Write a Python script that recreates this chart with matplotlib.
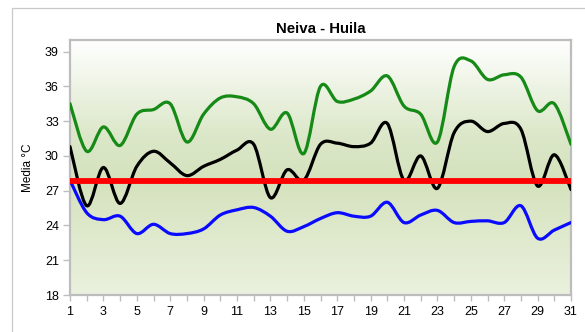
import numpy as np
import matplotlib
matplotlib.use("Agg")
import matplotlib.pyplot as plt
from matplotlib.path import Path
from matplotlib.patches import PathPatch, Rectangle
from matplotlib.colors import LinearSegmentedColormap

plt.rcParams['font.family'] = ['Liberation Sans', 'DejaVu Sans']

# daily temperatures, Neiva - Huila
dias = list(range(1, 32))
maxima = [34.5, 30.4, 32.5, 30.9, 33.6, 34.0, 34.5, 31.2, 33.6, 35.0, 35.1,
          34.5, 32.3, 33.7, 30.2, 36.0, 34.7, 34.9, 35.6, 36.9, 34.3, 33.6,
          31.2, 37.7, 38.2, 36.6, 37.0, 36.8, 33.9, 34.5, 31.0]
media = [30.8, 25.7, 29.0, 25.9, 29.1, 30.4, 29.4, 28.3, 29.1, 29.7, 30.5,
         31.0, 26.4, 28.8, 27.9, 31.0, 31.1, 30.8, 31.1, 32.8, 27.9, 30.0,
         27.2, 32.0, 33.0, 32.1, 32.8, 32.3, 27.4, 30.1, 27.1]
minima = [27.9, 25.1, 24.5, 24.8, 23.3, 24.1, 23.3, 23.3, 23.7, 24.9, 25.35,
          25.55, 24.8, 23.5, 23.9, 24.6, 25.1, 24.8, 24.8, 26.0, 24.25, 24.9,
          25.3, 24.25, 24.35, 24.4, 24.25, 25.7, 22.9, 23.6, 24.25]
promedio = 27.8

yticks = [18, 21, 24, 27, 30, 33, 36, 39]
xlabels = [1, 3, 5, 7, 9, 11, 13, 15, 17, 19, 21, 23, 25, 27, 29, 31]


def smooth_path(x, y):
    # Catmull-Rom curve through every point, written as cubic Bezier segments
    p = np.column_stack([x, y]).astype(float)
    ext = np.vstack([p[0], p, p[-1]])
    verts = [p[0]]
    codes = [Path.MOVETO]
    for i in range(len(p) - 1):
        p0, p1, p2, p3 = ext[i], ext[i + 1], ext[i + 2], ext[i + 3]
        verts += [p1 + (p2 - p0) / 6, p2 - (p3 - p1) / 6, p2]
        codes += [Path.CURVE4] * 3
    return Path(verts, codes)


fig = plt.figure(figsize=(5.85, 3.32), dpi=100)
fig.patch.set_facecolor('white')

# outer chart border
fig.add_artist(Rectangle((12 / 585, -0.1), 1.2, (332 - 8) / 332 + 0.1,
                         transform=fig.transFigure, fill=False,
                         edgecolor='#c8c8c8', linewidth=0.9))

ax = fig.add_axes([70 / 585, 1 - 295 / 332, 501 / 585, 255 / 332])
ax.set_xlim(1, 31)
ax.set_ylim(18, 40)

# vertical gradient fill of the plot area
cmap = LinearSegmentedColormap.from_list(
    'fondo', [(0.0, '#eaf1de'), (0.45, '#d5e2bd'), (0.62, '#dbe7c8'),
              (1.0, '#ffffff')])
grad = np.linspace(0, 1, 256).reshape(-1, 1)
ax.imshow(grad, cmap=cmap, aspect='auto', origin='lower',
          extent=[1, 31, 18, 40], zorder=0)

for serie, color in [(maxima, '#168a16'), (media, 'black'), (minima, '#0a0aff')]:
    ax.add_patch(PathPatch(smooth_path(dias, serie), fill=False,
                           edgecolor=color, linewidth=2.3,
                           capstyle='round', joinstyle='round', zorder=3))

ax.plot([dias[0], dias[-1]], [promedio, promedio], color='#ff0000',
        linewidth=4.2, solid_capstyle='butt', zorder=4)

for s in ax.spines.values():
    s.set_color('#bdbdbd')
    s.set_linewidth(1.6)

ax.set_yticks(yticks)
ax.set_xticks(dias)
ax.set_xticklabels([str(d) if d in xlabels else '' for d in dias])
ax.tick_params(axis='both', colors='#bdbdbd', labelcolor='black',
               labelsize=9, direction='out', width=1.0)
ax.tick_params(axis='y', length=5, pad=3)
ax.tick_params(axis='x', length=4, pad=4)

ax.set_title('Neiva - Huila', fontsize=10.8, fontweight='bold', pad=5)
ax.set_ylabel('Media °C', fontsize=8.5, labelpad=8)

fig.savefig('out.png', dpi=100)
